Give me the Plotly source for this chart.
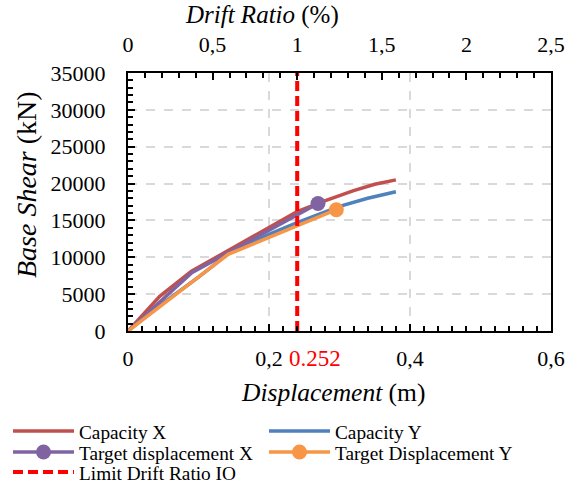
import plotly.graph_objects as go

# ---- data ----
cap_x_disp = [0, 0.045, 0.09, 0.144, 0.2, 0.24, 0.28, 0.32, 0.35, 0.38]
cap_x_shear = [0, 4700, 8100, 11000, 14000, 16200, 17700, 19050, 19900, 20500]

cap_y_disp = [0, 0.05, 0.1, 0.144, 0.2, 0.24, 0.3, 0.34, 0.38]
cap_y_shear = [0, 3800, 7300, 10600, 13100, 14700, 16900, 18000, 18900]

tgt_x_disp = [0, 0.0905, 0.2695]
tgt_x_shear = [0, 7900, 17300]

tgt_y_disp = [0, 0.142, 0.2955]
tgt_y_shear = [0, 10400, 16450]

limit_drift = [1.0, 1.0]
limit_shear = [0, 35000]
limit_label = "0.252"

x_ticks = [0, 0.2, 0.4, 0.6]
x_ticktext = ["0", "0,2", "0,4", "0,6"]
x2_ticks = [0, 0.5, 1, 1.5, 2, 2.5]
x2_ticktext = ["0", "0,5", "1", "1,5", "2", "2,5"]
y_ticks = [0, 5000, 10000, 15000, 20000, 25000, 30000, 35000]
y_ticktext = [str(v) for v in y_ticks]

FONT = "Liberation Serif, Times New Roman, serif"
C_RED = "#C0504D"
C_BLUE = "#4F81BD"
C_PURPLE = "#8064A2"
C_ORANGE = "#F79646"
LW = 3.5

fig = go.Figure()
fig.add_trace(go.Scatter(x=cap_x_disp, y=cap_x_shear, mode="lines", name="Capacity X",
                         line=dict(color=C_RED, width=LW), legend="legend"))
fig.add_trace(go.Scatter(x=cap_y_disp, y=cap_y_shear, mode="lines", name="Capacity Y",
                         line=dict(color=C_BLUE, width=LW), legend="legend2"))
fig.add_trace(go.Scatter(x=tgt_x_disp, y=tgt_x_shear, mode="lines", showlegend=False,
                         line=dict(color=C_PURPLE, width=LW)))
fig.add_trace(go.Scatter(x=tgt_x_disp[-1:], y=tgt_x_shear[-1:], mode="lines+markers",
                         name="Target displacement X", legend="legend3",
                         line=dict(color=C_PURPLE, width=LW),
                         marker=dict(color=C_PURPLE, size=15)))
fig.add_trace(go.Scatter(x=tgt_y_disp, y=tgt_y_shear, mode="lines", showlegend=False,
                         line=dict(color=C_ORANGE, width=LW)))
fig.add_trace(go.Scatter(x=tgt_y_disp[-1:], y=tgt_y_shear[-1:], mode="lines+markers",
                         name="Target Displacement Y", legend="legend4",
                         line=dict(color=C_ORANGE, width=LW),
                         marker=dict(color=C_ORANGE, size=15)))
fig.add_trace(go.Scatter(x=limit_drift, y=limit_shear, xaxis="x2", mode="lines",
                         name="Limit Drift Ratio IO", legend="legend5",
                         line=dict(color="#FF0000", width=4, dash="10px,5px")))

tickfont = dict(family=FONT, size=22, color="black")


def leg(xpx, ytop):
    return dict(xref="container", yref="container",
                x=xpx / 587, y=1 - ytop / 484, xanchor="left", yanchor="top",
                itemwidth=61, font=dict(family=FONT, size=19.3, color="black"),
                bgcolor="rgba(0,0,0,0)")


fig.update_layout(
    width=587, height=484,
    margin=dict(l=128, r=36, t=73, b=153, autoexpand=False),
    paper_bgcolor="white", plot_bgcolor="white",
    font=dict(family=FONT, color="black"),
    xaxis=dict(range=[0, 0.6], tickvals=x_ticks, ticktext=x_ticktext, tickfont=tickfont,
               showline=True, linecolor="black", linewidth=2, automargin=False,
               ticks="inside", ticklen=7, tickwidth=2, tickcolor="black",
               minor=dict(ticks="inside", dtick=0.02, tick0=0, ticklen=5, tickwidth=1.5,
                          tickcolor="black", showgrid=False),
               showgrid=True, gridcolor="#D9D9D9", gridwidth=1.5, griddash="dash",
               zeroline=False, ticklabelstandoff=7),
    xaxis2=dict(range=[0, 2.5], overlaying="x", side="top", anchor="y",
                tickvals=x2_ticks, ticktext=x2_ticktext, tickfont=tickfont,
                showline=True, linecolor="black", linewidth=2, automargin=False,
                ticks="inside", ticklen=7, tickwidth=2, tickcolor="black",
                minor=dict(ticks="inside", dtick=0.1, tick0=0, ticklen=5, tickwidth=1.5,
                           tickcolor="black", showgrid=False),
                showgrid=False, zeroline=False, ticklabelstandoff=10),
    yaxis=dict(range=[0, 35000], tickvals=y_ticks, ticktext=y_ticktext, tickfont=tickfont,
               showline=True, linecolor="black", linewidth=2, mirror=True, automargin=False,
               ticks="inside", ticklen=7, tickwidth=2, tickcolor="black",
               minor=dict(ticks="inside", dtick=1000, tick0=0, ticklen=5, tickwidth=1.5,
                          tickcolor="black", showgrid=False),
               showgrid=True, gridcolor="#D9D9D9", gridwidth=1.5, griddash="dash",
               zeroline=False, ticklabelstandoff=16),
    legend=leg(8, 412),
    legend2=leg(264, 412),
    legend3=leg(8, 433),
    legend4=leg(264, 433),
    legend5=leg(8, 453),
    showlegend=True,
)

# axis titles
fig.add_annotation(text="<i>Drift Ratio</i> (%)", xref="paper", yref="paper",
                   x=(262 - 128) / 423, y=1, yshift=58, xanchor="center", yanchor="middle",
                   showarrow=False, font=dict(family=FONT, size=25, color="black"))
fig.add_annotation(text="<i>Displacement</i> (m)", xref="paper", yref="paper",
                   x=(333 - 128) / 423, y=0, yshift=-61, xanchor="center", yanchor="middle",
                   showarrow=False, font=dict(family=FONT, size=25.5, color="black"))
fig.add_annotation(text="<i>Base Shear</i> (kN)", xref="paper", yref="paper",
                   x=0, xshift=-102, y=(331 - 185) / 258, textangle=-90,
                   xanchor="center", yanchor="middle",
                   showarrow=False, font=dict(family=FONT, size=28, color="black"))
# limit label
fig.add_annotation(text=limit_label, xref="x2", yref="paper", x=limit_drift[0], y=0,
                   xanchor="left", yanchor="middle", xshift=-10, yshift=-27,
                   showarrow=False, font=dict(family=FONT, size=23, color="#FF0000"))

fig.write_html("out.html", config={"displayModeBar": False},
               post_script="document.body.style.margin='0';")
